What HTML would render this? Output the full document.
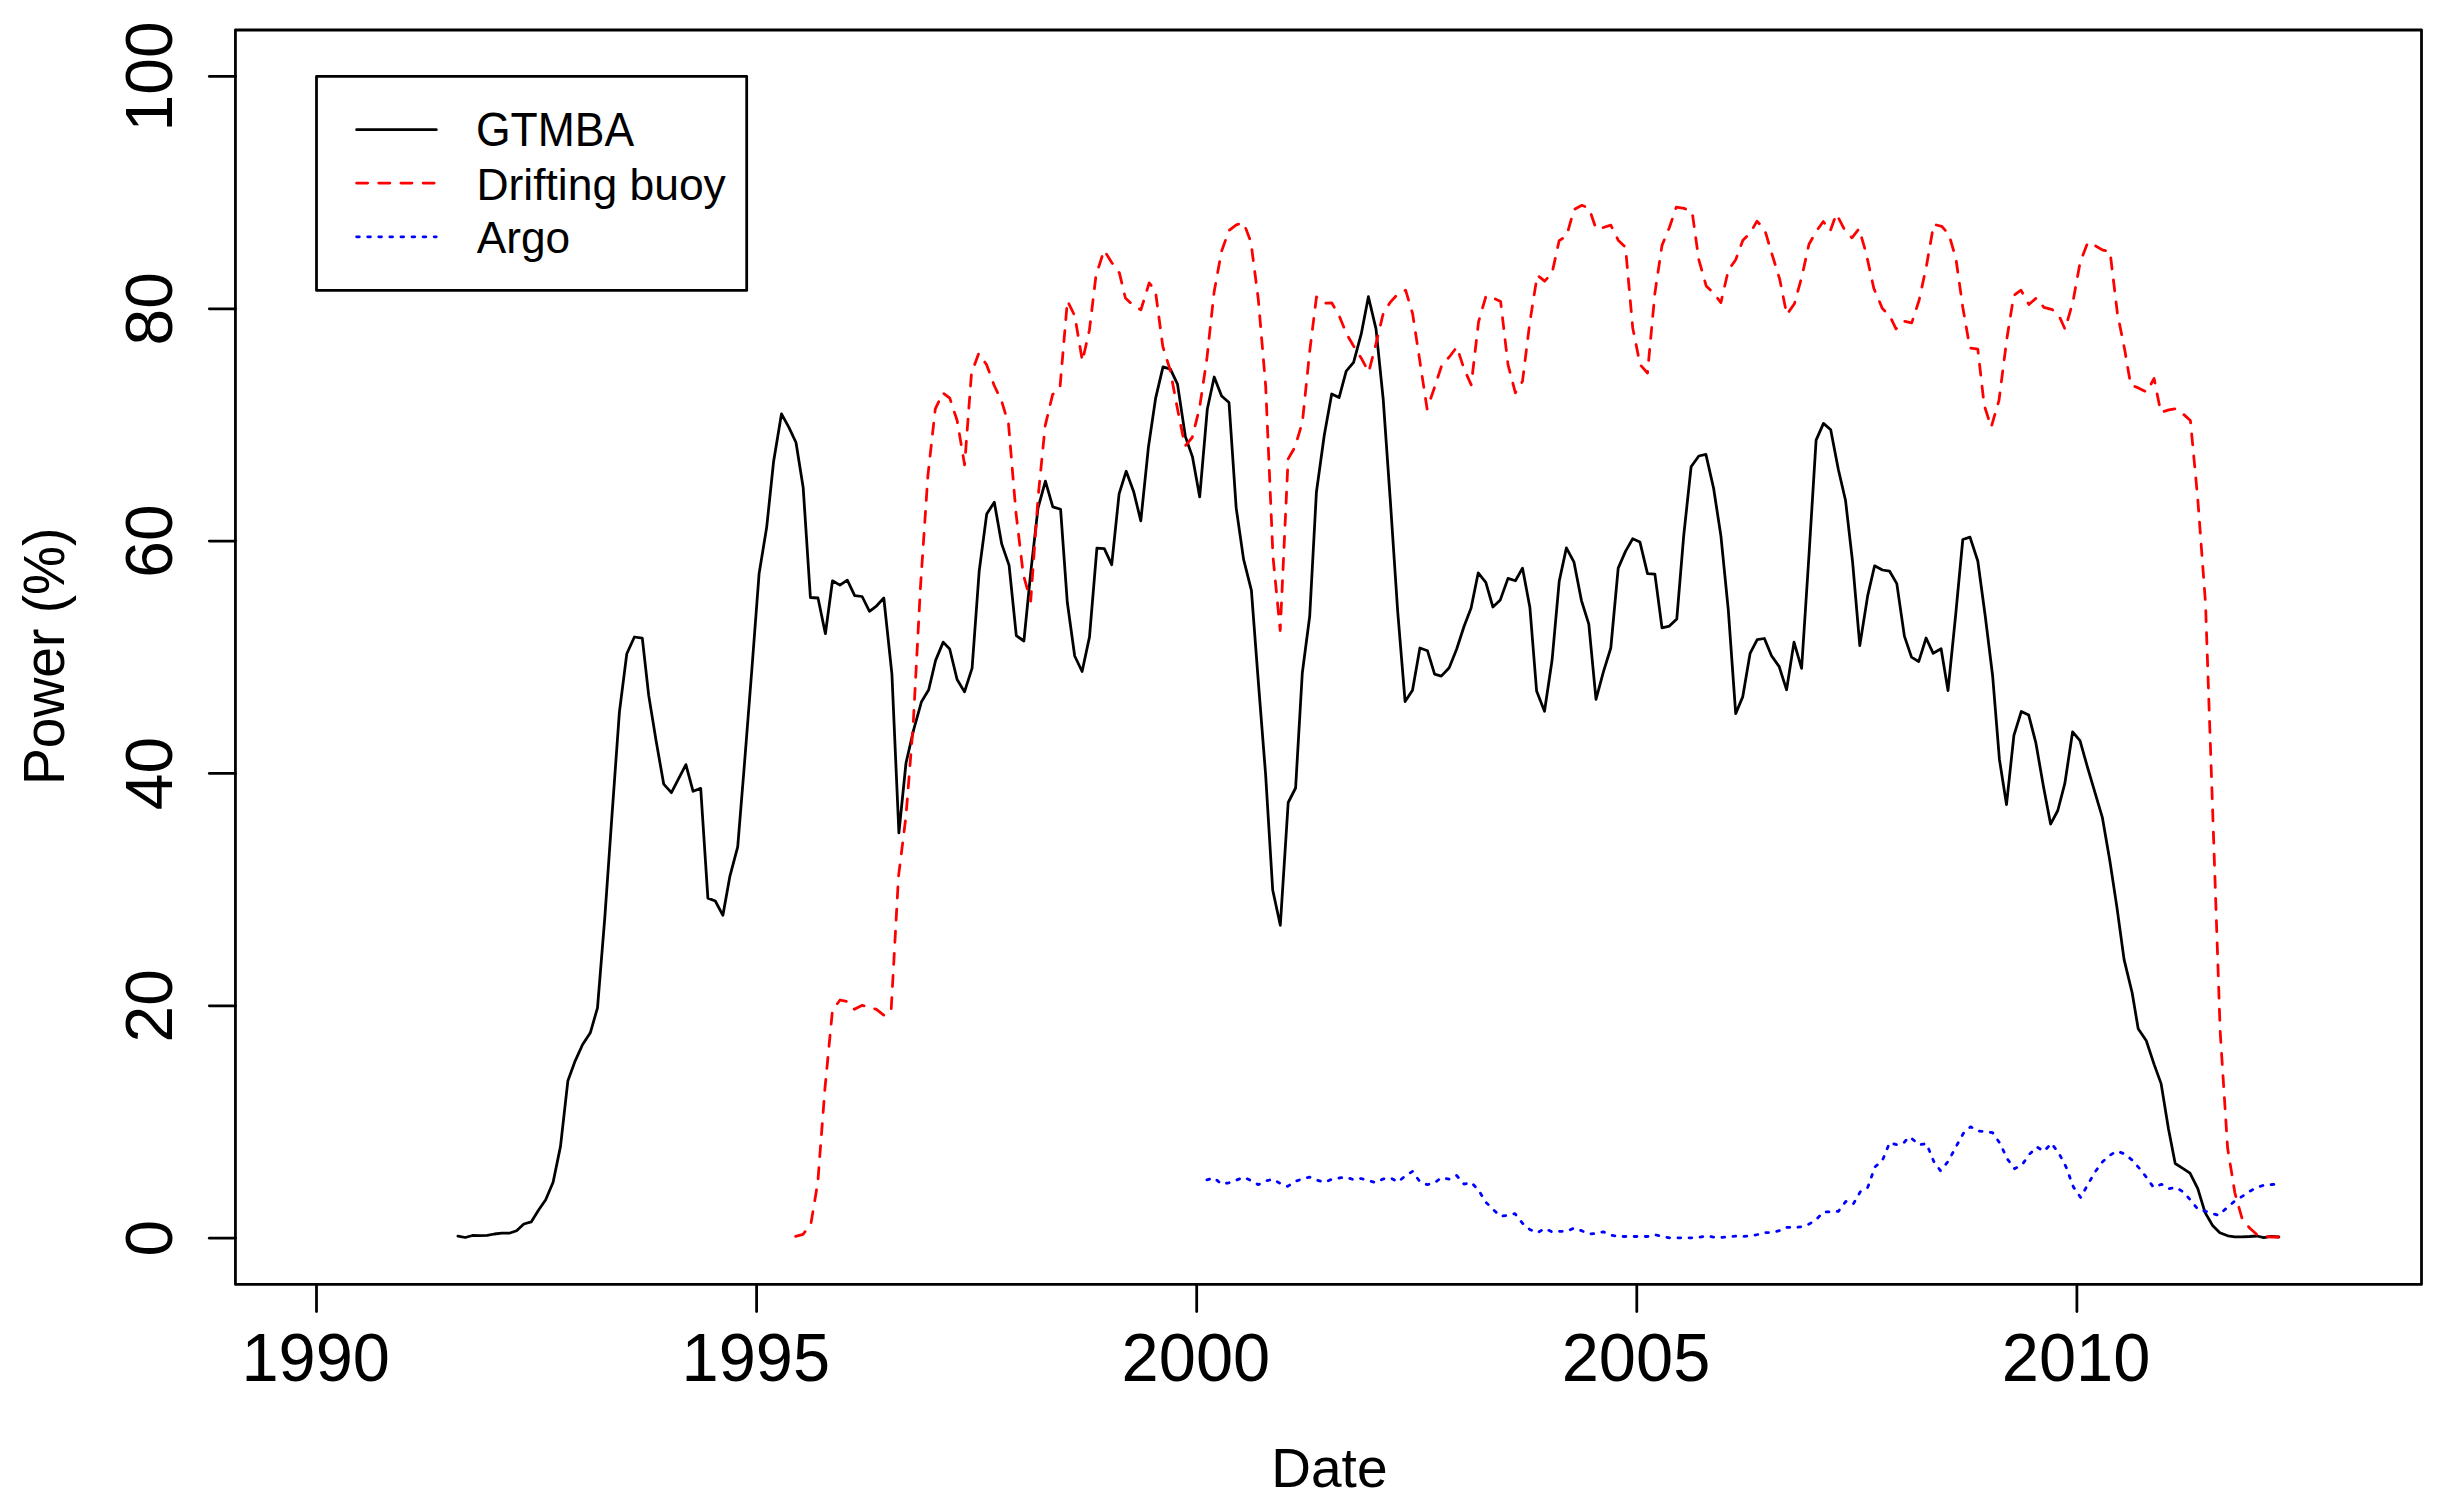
<!DOCTYPE html>
<html lang="en"><head><meta charset="utf-8"><title>Power (%) by Date</title>
<style>html,body{margin:0;padding:0;background:#fff}body{width:2445px;height:1510px;overflow:hidden}svg text{font-family:"Liberation Sans", Arial, Helvetica, sans-serif;fill:#000}</style>
</head><body>
<svg width="2445" height="1510" viewBox="0 0 2445 1510" style="display:block">
<rect width="2445" height="1510" fill="#fff"/>
<polyline fill="none" stroke="#000" stroke-width="2.77" stroke-linejoin="round" stroke-linecap="round" points="457.9,1236.1 465.3,1237.5 472.4,1235.5 479.8,1235.7 487.2,1235.3 494.4,1234.0 501.8,1233.2 509.2,1233.2 516.6,1230.8 523.8,1224.0 531.2,1221.9 538.6,1210.0 545.7,1199.8 553.1,1182.3 560.5,1146.4 567.9,1080.7 575.1,1061.1 582.5,1044.7 590.3,1032.8 597.5,1007.8 604.8,917.7 612.0,815.1 619.4,712.1 626.8,653.7 634.4,637.0 642.3,638.2 648.7,695.4 656.1,740.7 663.7,784.1 671.4,792.7 678.5,778.9 685.9,764.6 693.1,791.3 700.7,788.4 707.9,898.1 715.3,901.0 722.9,915.3 729.8,876.7 737.7,846.8 744.4,764.6 751.7,671.5 759.1,573.6 766.7,527.1 773.6,461.5 781.5,413.8 788.9,427.4 796.0,442.5 803.2,487.8 810.4,597.5 818.0,598.0 825.4,633.7 832.5,580.8 839.9,585.1 847.3,580.1 854.7,595.6 862.1,596.5 869.5,611.3 876.7,605.8 883.8,598.0 891.9,673.8 898.9,832.9 906.0,763.0 913.7,729.6 921.5,701.7 928.7,689.8 935.6,660.4 943.2,642.1 949.7,649.0 957.1,679.5 964.5,691.9 972.1,668.1 979.2,571.0 986.7,514.1 994.3,502.2 1001.7,543.9 1009.1,565.4 1016.3,635.7 1023.9,641.0 1030.8,571.8 1038.0,508.1 1045.4,481.2 1052.8,506.9 1060.6,509.3 1067.3,602.3 1074.7,656.0 1082.1,671.5 1089.5,636.9 1096.9,548.2 1104.3,548.7 1111.7,564.7 1119.1,493.8 1126.2,471.2 1133.6,491.4 1140.8,520.8 1148.4,447.3 1155.6,398.4 1163.0,366.9 1170.4,369.1 1177.5,384.1 1185.4,436.6 1192.5,456.9 1199.7,496.9 1207.3,409.2 1214.2,377.0 1221.6,396.0 1229.0,402.5 1236.2,508.1 1243.6,559.4 1251.4,590.4 1258.2,680.2 1265.6,774.4 1272.7,890.0 1280.3,925.3 1288.2,802.5 1295.6,788.0 1302.3,673.0 1309.7,616.3 1316.4,492.3 1324.3,435.0 1331.7,394.0 1339.1,397.6 1346.2,371.1 1353.6,362.3 1361.3,333.7 1368.4,296.7 1376.0,328.9 1383.2,399.2 1390.4,501.8 1397.7,611.5 1405.1,701.6 1412.5,690.2 1419.9,648.0 1427.5,650.8 1434.6,674.2 1441.3,676.1 1449.2,667.8 1456.6,649.2 1464.0,626.5 1471.1,608.1 1478.2,572.9 1485.8,582.4 1492.9,607.0 1500.3,599.9 1508.0,578.4 1515.4,580.8 1522.5,568.1 1529.9,607.5 1536.6,691.0 1544.5,711.2 1552.1,660.0 1559.2,581.3 1566.4,547.9 1574.0,562.2 1581.4,600.3 1588.8,624.2 1596.0,699.3 1603.4,671.9 1610.8,648.0 1618.2,568.1 1625.5,551.4 1632.7,538.8 1639.9,541.9 1647.5,573.6 1654.9,574.1 1662.0,627.8 1669.4,626.1 1676.8,618.9 1683.7,535.9 1691.1,466.8 1698.8,456.0 1705.9,454.4 1713.6,488.2 1720.9,535.9 1728.3,609.9 1735.7,713.6 1742.7,696.9 1750.1,653.3 1757.2,639.7 1764.4,638.5 1771.5,655.7 1779.2,666.6 1786.6,689.8 1794.0,642.1 1801.6,668.3 1809.0,555.0 1816.1,440.1 1823.5,423.4 1830.7,429.8 1838.3,469.2 1845.5,500.2 1852.6,562.2 1859.8,645.6 1867.7,595.6 1874.6,565.8 1882.4,570.0 1889.6,571.2 1896.8,583.6 1904.4,636.1 1911.5,657.1 1918.7,661.6 1926.1,638.0 1933.2,653.3 1941.1,648.7 1948.0,690.5 1955.7,614.6 1962.8,539.5 1970.0,537.1 1977.8,561.0 1985.2,615.8 1992.6,675.5 1999.4,759.2 2006.5,804.6 2013.9,735.4 2021.3,711.5 2028.7,715.1 2035.8,742.6 2043.5,786.7 2050.6,824.1 2057.8,810.5 2064.9,783.1 2072.6,731.8 2080.0,740.6 2087.6,767.6 2095.0,792.6 2102.4,817.7 2109.8,860.6 2116.9,907.1 2124.1,959.6 2132.2,993.0 2138.2,1028.8 2146.3,1040.7 2154.2,1064.6 2161.1,1083.6 2168.5,1129.0 2175.2,1163.5 2182.8,1168.3 2190.0,1173.1 2197.8,1188.6 2205.0,1212.4 2212.6,1225.5 2219.8,1232.7 2227.7,1235.8 2234.8,1236.8 2242.2,1236.8 2249.6,1236.5 2257.0,1236.0 2263.9,1237.7 2271.1,1236.3 2278.9,1237.0"/>
<polyline fill="none" stroke="#f00" stroke-width="2.77" stroke-linejoin="round" stroke-linecap="round" stroke-dasharray="11.08,11.08" points="795.6,1236.3 803.0,1234.3 810.8,1224.4 817.8,1182.3 825.0,1087.8 832.5,1010.0 840.1,1000.0 847.5,1001.7 854.4,1009.3 862.3,1005.3 869.2,1007.2 876.4,1009.3 884.0,1015.3 891.1,1011.2 898.5,876.5 905.9,816.9 913.1,726.2 920.5,586.5 927.9,475.6 935.3,408.9 942.9,392.9 949.8,398.1 957.2,420.8 964.6,464.9 971.5,373.1 978.7,353.5 986.6,364.7 994.0,385.0 1001.4,400.5 1008.5,423.7 1015.9,512.1 1023.3,574.6 1030.7,601.1 1038.1,497.1 1045.2,425.6 1052.6,394.6 1060.0,387.4 1067.4,300.8 1074.8,315.9 1082.4,361.2 1089.4,330.2 1096.0,275.3 1104.1,250.3 1111.5,262.2 1119.4,272.9 1125.4,298.0 1133.5,305.6 1140.9,309.9 1149.2,282.9 1155.4,290.8 1162.8,346.4 1170.2,370.2 1177.6,409.6 1185.0,446.1 1192.2,437.5 1199.6,407.8 1207.0,357.7 1214.1,292.1 1221.5,251.5 1228.9,230.6 1236.3,224.8 1243.7,222.9 1250.9,242.0 1258.3,299.2 1265.7,386.3 1273.0,556.8 1280.2,630.5 1288.1,459.0 1295.0,447.1 1302.4,422.1 1309.8,350.5 1316.5,296.9 1324.3,303.3 1331.7,302.8 1339.1,315.5 1346.5,333.8 1353.7,346.2 1361.0,357.7 1368.7,372.0 1375.8,344.6 1383.2,313.6 1390.4,302.1 1397.8,294.0 1405.6,290.2 1412.6,313.6 1419.7,360.1 1427.1,409.0 1434.5,387.5 1441.9,364.8 1449.3,357.0 1456.9,346.9 1463.8,368.2 1471.2,384.9 1478.6,321.7 1486.0,296.0 1493.2,297.9 1500.6,301.4 1508.0,364.6 1515.4,392.8 1522.5,381.3 1529.9,321.7 1537.3,275.2 1544.7,281.2 1552.1,272.8 1559.2,240.6 1566.6,235.9 1574.0,209.6 1581.9,205.3 1589.1,208.4 1596.0,228.7 1603.4,227.5 1610.8,225.1 1618.2,240.2 1625.5,247.3 1632.7,327.7 1640.1,364.6 1647.5,373.0 1654.9,293.1 1662.0,245.4 1669.4,227.5 1676.3,207.2 1684.2,208.4 1692.1,211.5 1698.8,259.7 1706.2,285.9 1713.6,293.1 1720.9,302.6 1728.3,270.4 1735.7,259.7 1742.9,240.2 1750.3,232.8 1757.0,221.1 1764.8,229.9 1772.2,254.9 1779.6,278.8 1786.8,314.6 1794.4,303.8 1801.6,277.6 1809.0,244.2 1816.4,231.1 1823.3,221.5 1830.2,231.1 1836.4,213.9 1844.0,228.7 1851.9,237.8 1859.0,228.7 1866.0,252.6 1873.8,288.3 1882.4,308.6 1889.8,315.8 1896.0,328.9 1904.1,321.2 1911.7,322.9 1919.1,300.3 1926.5,265.7 1933.7,224.4 1941.8,226.3 1949.0,234.7 1955.9,258.5 1962.8,307.4 1969.9,347.9 1977.8,349.1 1984.2,405.2 1991.2,427.1 1999.0,400.4 2006.9,338.4 2013.8,295.5 2021.0,290.2 2028.9,304.5 2036.5,297.8 2043.9,307.3 2052.3,309.7 2059.2,316.1 2065.1,329.3 2073.0,301.4 2080.2,262.0 2087.8,242.5 2095.4,245.8 2102.8,250.1 2110.0,251.5 2117.4,313.3 2124.8,350.3 2130.7,384.8 2139.3,388.4 2146.7,392.0 2154.1,378.4 2160.8,412.3 2168.9,409.9 2176.3,408.7 2183.4,414.2 2190.4,420.6 2197.7,498.1 2205.5,603.0 2212.9,818.0 2220.2,1032.0 2227.6,1148.0 2234.9,1193.0 2242.2,1219.0 2249.6,1228.0 2256.9,1234.6 2264.3,1236.3 2271.6,1237.0 2279.0,1237.0"/>
<polyline fill="none" stroke="#00f" stroke-width="2.77" stroke-linejoin="round" stroke-linecap="round" stroke-dasharray="2.77,8.31" points="1206.9,1179.9 1214.2,1177.9 1221.5,1184.1 1228.9,1182.8 1236.2,1180.2 1243.7,1177.3 1251.0,1180.5 1258.3,1184.7 1265.7,1181.0 1273.0,1179.2 1280.3,1183.5 1287.6,1186.4 1295.0,1181.5 1302.3,1178.9 1309.6,1177.1 1317.1,1180.1 1324.4,1182.3 1331.8,1179.2 1339.1,1178.0 1346.4,1177.2 1353.7,1179.8 1361.1,1178.5 1368.4,1180.6 1375.7,1182.6 1383.2,1178.9 1390.5,1177.9 1397.9,1182.0 1405.2,1176.0 1412.5,1171.4 1419.8,1181.5 1427.2,1184.7 1434.5,1182.7 1441.8,1177.6 1449.3,1179.2 1456.6,1175.5 1464.0,1184.1 1471.3,1182.4 1478.6,1190.3 1485.9,1202.2 1493.3,1209.7 1500.6,1216.3 1507.9,1215.3 1514.9,1213.6 1522.6,1223.4 1530.1,1229.7 1537.4,1232.8 1544.7,1228.4 1552.0,1231.9 1559.4,1231.3 1566.7,1231.3 1574.0,1228.1 1581.4,1230.6 1588.8,1233.9 1596.2,1233.6 1603.5,1231.8 1610.8,1235.2 1618.1,1236.5 1625.5,1236.5 1632.8,1236.5 1640.1,1236.5 1647.5,1236.5 1654.9,1234.7 1662.3,1236.5 1669.6,1237.8 1676.9,1237.8 1684.2,1237.8 1691.6,1237.8 1698.9,1237.5 1706.2,1235.7 1713.6,1237.1 1721.0,1237.4 1728.4,1236.9 1735.7,1236.2 1743.0,1236.5 1750.3,1236.0 1757.7,1234.5 1765.0,1232.6 1772.3,1232.6 1779.7,1230.6 1787.1,1227.3 1794.5,1227.7 1801.8,1226.7 1809.1,1224.1 1816.3,1219.4 1823.6,1211.9 1831.0,1211.9 1838.4,1211.3 1845.8,1201.4 1853.1,1204.3 1860.4,1191.6 1867.7,1187.4 1875.1,1166.8 1882.4,1160.5 1889.7,1142.5 1897.1,1144.9 1904.5,1142.1 1908.5,1137.0 1911.9,1138.7 1919.2,1144.8 1926.5,1143.6 1933.8,1161.5 1940.5,1170.7 1948.5,1160.9 1955.8,1147.1 1963.3,1133.4 1970.6,1126.8 1978.0,1131.2 1985.3,1131.4 1992.6,1132.7 1999.9,1143.2 2007.3,1158.9 2014.6,1168.7 2022.1,1164.8 2029.4,1154.3 2036.7,1146.9 2044.1,1151.3 2051.4,1143.2 2058.7,1153.0 2066.0,1166.8 2073.4,1187.0 2080.7,1197.5 2088.2,1183.8 2095.5,1171.3 2102.8,1161.5 2110.1,1155.2 2116.8,1151.1 2124.9,1154.0 2132.0,1160.0 2139.4,1168.3 2146.8,1177.8 2153.5,1187.4 2161.6,1184.3 2168.8,1188.6 2176.1,1187.4 2183.5,1192.2 2190.9,1200.5 2198.1,1209.6 2205.5,1211.2 2212.9,1213.6 2218.6,1215.3 2226.9,1207.7 2234.8,1201.0 2242.2,1196.4 2249.6,1191.4 2257.0,1187.4 2264.4,1185.0 2271.8,1184.5 2278.9,1183.8"/>
<rect x="235.43" y="30.0" width="2186.07" height="1254.45" fill="none" stroke="#000" stroke-width="2.77" stroke-linejoin="round"/>
<line x1="209.3" y1="1238.2" x2="235.43" y2="1238.2" stroke="#000" stroke-width="2.77" stroke-linecap="round"/>
<text transform="translate(172.3,1238.2) rotate(-90) scale(1,1.015)" text-anchor="middle" font-size="66">0</text>
<line x1="209.3" y1="1005.84" x2="235.43" y2="1005.84" stroke="#000" stroke-width="2.77" stroke-linecap="round"/>
<text transform="translate(172.3,1005.84) rotate(-90) scale(1,1.015)" text-anchor="middle" font-size="66">20</text>
<line x1="209.3" y1="773.48" x2="235.43" y2="773.48" stroke="#000" stroke-width="2.77" stroke-linecap="round"/>
<text transform="translate(172.3,773.48) rotate(-90) scale(1,1.015)" text-anchor="middle" font-size="66">40</text>
<line x1="209.3" y1="541.12" x2="235.43" y2="541.12" stroke="#000" stroke-width="2.77" stroke-linecap="round"/>
<text transform="translate(172.3,541.12) rotate(-90) scale(1,1.015)" text-anchor="middle" font-size="66">60</text>
<line x1="209.3" y1="308.76" x2="235.43" y2="308.76" stroke="#000" stroke-width="2.77" stroke-linecap="round"/>
<text transform="translate(172.3,308.76) rotate(-90) scale(1,1.015)" text-anchor="middle" font-size="66">80</text>
<line x1="209.3" y1="76.4" x2="235.43" y2="76.4" stroke="#000" stroke-width="2.77" stroke-linecap="round"/>
<text transform="translate(172.3,76.4) rotate(-90) scale(1,1.015)" text-anchor="middle" font-size="66">100</text>
<line x1="316.5" y1="1284.45" x2="316.5" y2="1311.6" stroke="#000" stroke-width="2.77" stroke-linecap="round"/>
<text transform="translate(315.7,1381.1) scale(1,1.015)" text-anchor="middle" font-size="66.8">1990</text>
<line x1="756.6" y1="1284.45" x2="756.6" y2="1311.6" stroke="#000" stroke-width="2.77" stroke-linecap="round"/>
<text transform="translate(755.8000000000001,1381.1) scale(1,1.015)" text-anchor="middle" font-size="66.8">1995</text>
<line x1="1196.7" y1="1284.45" x2="1196.7" y2="1311.6" stroke="#000" stroke-width="2.77" stroke-linecap="round"/>
<text transform="translate(1195.9,1381.1) scale(1,1.015)" text-anchor="middle" font-size="66.8">2000</text>
<line x1="1636.8" y1="1284.45" x2="1636.8" y2="1311.6" stroke="#000" stroke-width="2.77" stroke-linecap="round"/>
<text transform="translate(1636.0,1381.1) scale(1,1.015)" text-anchor="middle" font-size="66.8">2005</text>
<line x1="2076.9" y1="1284.45" x2="2076.9" y2="1311.6" stroke="#000" stroke-width="2.77" stroke-linecap="round"/>
<text transform="translate(2076.1,1381.1) scale(1,1.015)" text-anchor="middle" font-size="66.8">2010</text>
<text transform="translate(1329.4,1487.1) scale(1,1.02)" text-anchor="middle" font-size="55">Date</text>
<text transform="translate(64.4,656.3) rotate(-90) scale(1,1.025)" text-anchor="middle" font-size="55.2">Power (%)</text>
<rect x="316.5" y="76.3" width="430.2" height="214.1" fill="#fff" stroke="#000" stroke-width="2.77" stroke-linejoin="round"/>
<line x1="356.6" y1="129.7" x2="436.3" y2="129.7" stroke="#000" stroke-width="2.77" stroke-linecap="round"/>
<line x1="356.6" y1="183.1" x2="436.3" y2="183.1" stroke="#f00" stroke-width="2.77" stroke-linecap="round" stroke-dasharray="11.08,11.08"/>
<line x1="356.6" y1="236.8" x2="436.3" y2="236.8" stroke="#00f" stroke-width="2.77" stroke-linecap="round" stroke-dasharray="2.77,8.31"/>
<text transform="translate(476,146) scale(1,1.065)" font-size="44.5">GTMBA</text>
<text transform="translate(476.4,200) scale(1,1.01)" font-size="44.45">Drifting buoy</text>
<text transform="translate(476.7,253.1) scale(1,1.02)" font-size="44.2">Argo</text>
</svg>
</body></html>
